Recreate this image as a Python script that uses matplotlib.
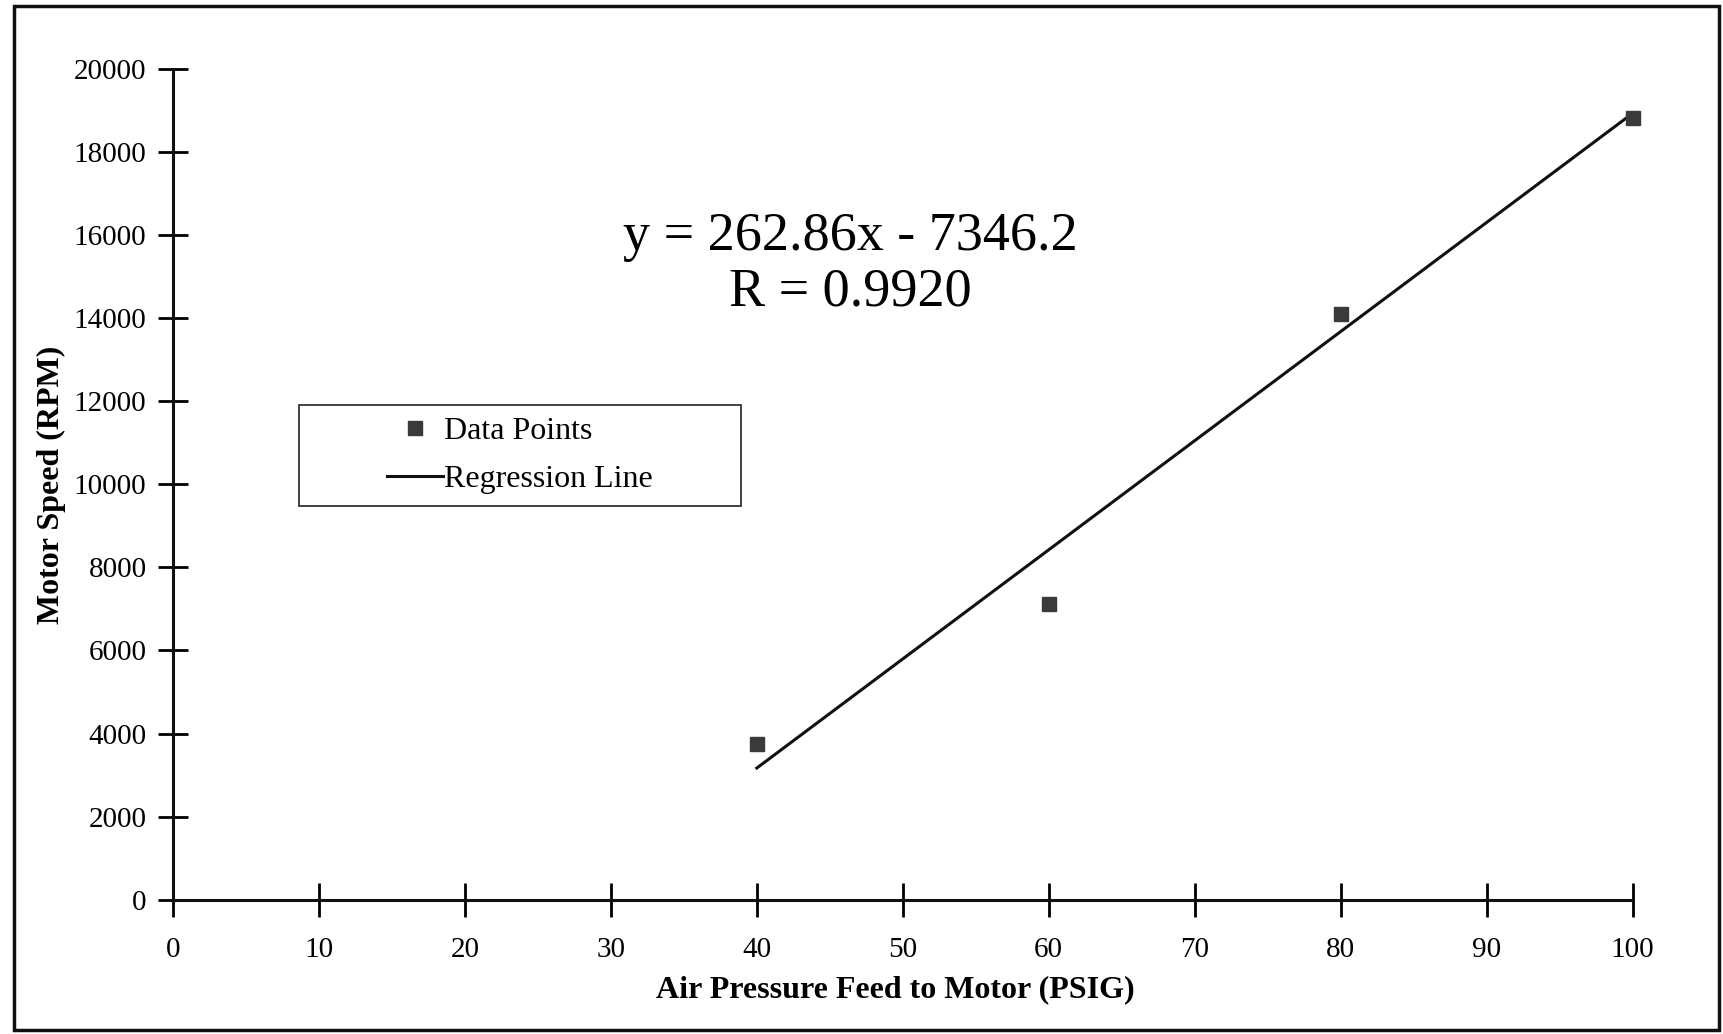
import numpy as np
import matplotlib
matplotlib.use("Agg")
import matplotlib.pyplot as plt
from matplotlib.patches import Rectangle

plt.rcParams['font.family'] = ['Liberation Serif', 'DejaVu Serif']

# data
pressure = [40, 60, 80, 100]
speed = [3740, 7130, 14110, 18830]
slope = 262.86
intercept = -7346.2
r_value = 0.9920
xticks = list(range(0, 101, 10))
yticks = list(range(0, 20001, 2000))

fs = 21

fig = plt.figure(figsize=(17.24, 10.34), dpi=100)
ax = fig.add_axes([0.1003, 0.130, 0.8467, 0.803])

xfit = np.array([pressure[0], pressure[-1]])
yfit = slope * xfit + intercept

ax.plot(pressure, speed, linestyle='none', marker='s', markersize=10.5,
        color='#3a3a3a', label='Data Points', zorder=3, clip_on=False)
ax.plot(xfit, yfit, color='#111111', linewidth=2.2, label='Regression Line', clip_on=False)

ax.set_xlim(0, 100)
ax.set_ylim(0, 20000)
ax.set_xticks(xticks)
ax.set_yticks(yticks)

for s in ['top', 'right']:
    ax.spines[s].set_visible(False)
for s in ['left', 'bottom']:
    ax.spines[s].set_linewidth(2.2)
    ax.spines[s].set_color('#111111')

ax.tick_params(axis='x', direction='inout', length=24, width=2, pad=15, labelsize=fs)
ax.tick_params(axis='y', direction='inout', length=22, width=2, pad=8, labelsize=fs)

ax.set_xlabel('Air Pressure Feed to Motor (PSIG)', fontsize=23, fontweight='bold')
ax.set_ylabel('Motor Speed (RPM)', fontsize=23, fontweight='bold')
ax.xaxis.set_label_coords(0.495, -0.108)
ax.yaxis.set_label_coords(-0.083, 0.5)
ax.xaxis.label.set_va('center')
ax.yaxis.label.set_va('center')

ax.text(0.464, 0.765, 'y = %.2fx - %.1f\nR = %.4f' % (slope, -intercept, r_value),
        transform=ax.transAxes, ha='center', va='center', fontsize=39,
        linespacing=1.15)

# legend box with centred contents
ax.add_patch(Rectangle((0.0863, 0.474), 0.3027, 0.122, transform=ax.transAxes,
                       fill=False, edgecolor='#222222', linewidth=1.2))
leg = ax.legend(loc='center', bbox_to_anchor=(0.2377, 0.535), fontsize=23,
                handlelength=1.75, handletextpad=0.02, frameon=False,
                borderpad=0, labelspacing=0.6, borderaxespad=0)

# outer frame around the whole picture
fig.patches.append(Rectangle((0.008, 0.004), 0.989, 0.99, transform=fig.transFigure,
                             fill=False, edgecolor='#111111', linewidth=2.5))

plt.savefig('out.png', dpi=100)
plt.close()
